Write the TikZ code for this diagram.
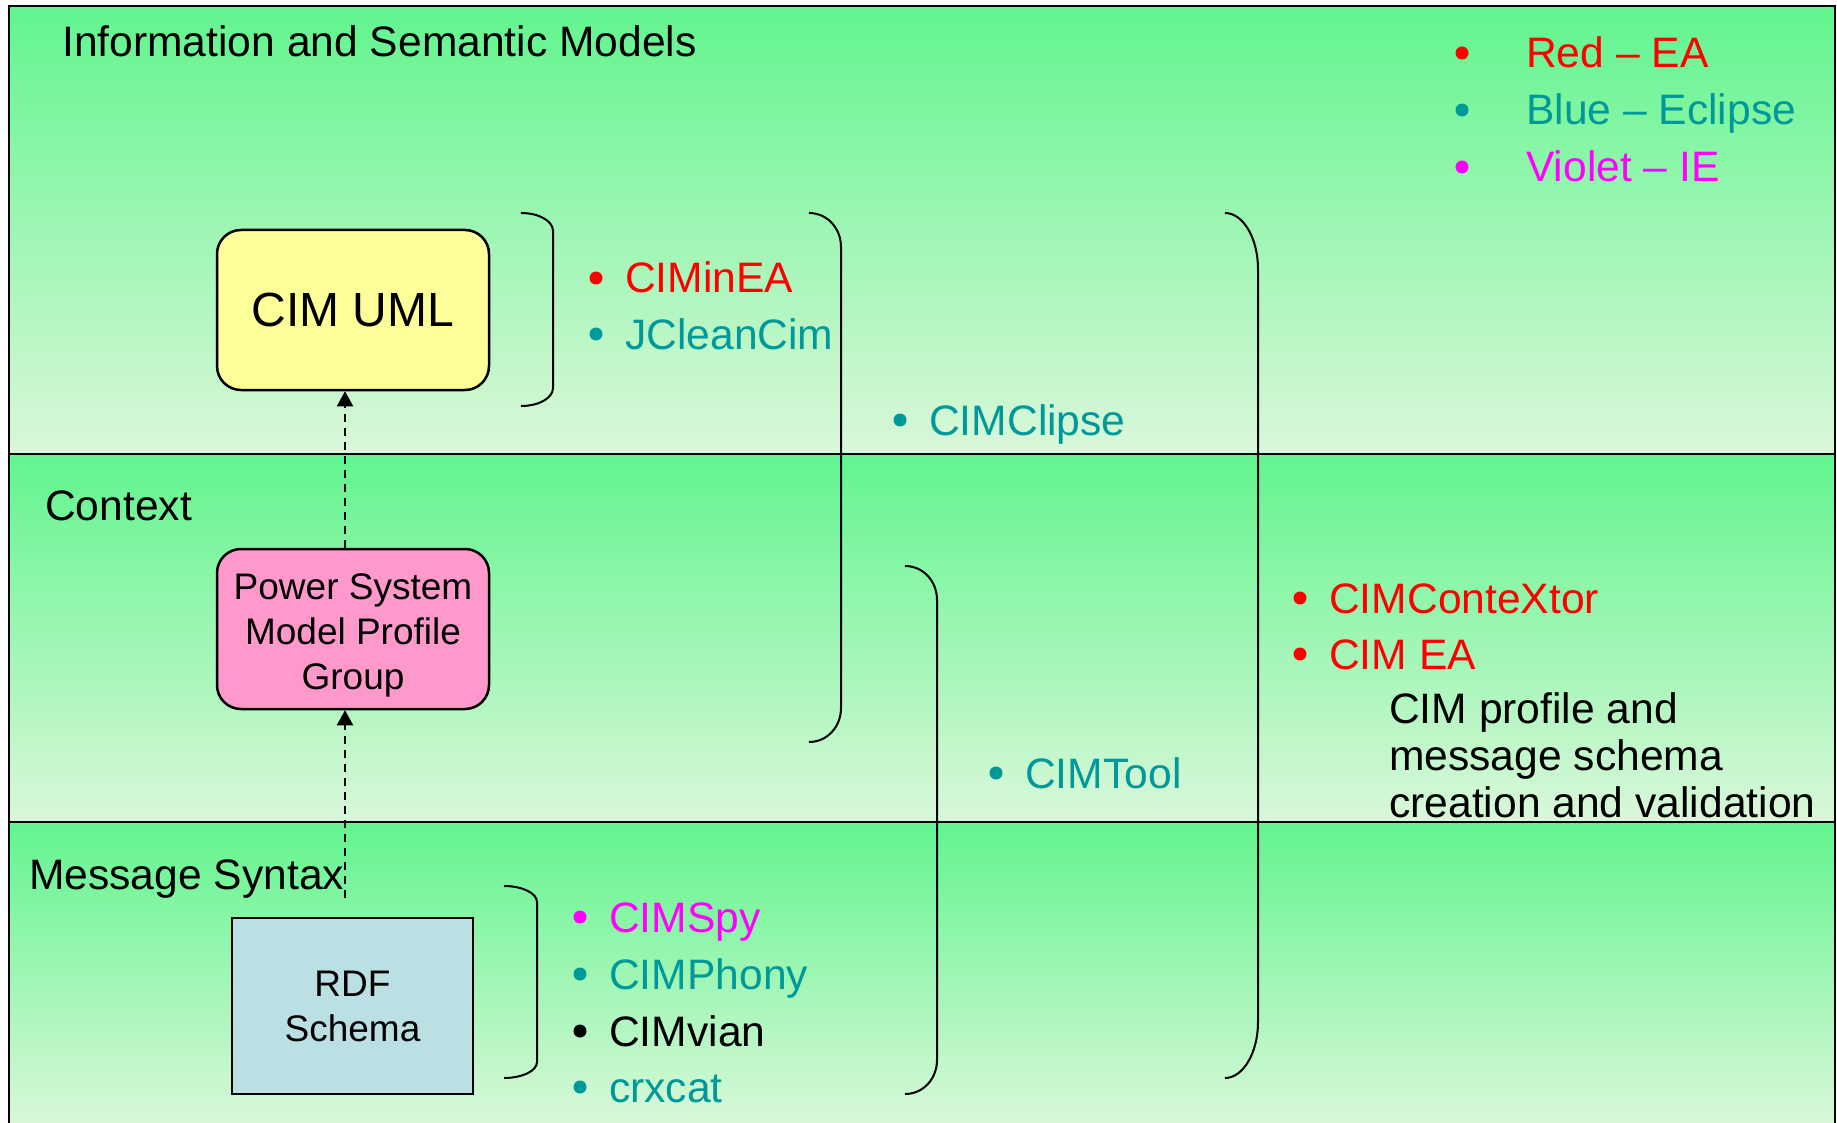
\documentclass[tikz,border=0pt]{standalone}
\usepackage{fontspec}
\setmainfont{Liberation Sans}
\usetikzlibrary{arrows.meta}
\definecolor{bandgreen}{RGB}{98,245,142}
\definecolor{bandpale}{RGB}{218,247,218}
\definecolor{umlyellow}{RGB}{255,255,153}
\definecolor{profilepink}{RGB}{255,153,204}
\definecolor{schemablue}{RGB}{187,224,227}
\definecolor{eclipseteal}{RGB}{0,153,153}
\definecolor{ieviolet}{RGB}{255,0,255}

\begin{document}
\begin{tikzpicture}[x=1pt,y=-1pt,
  band/.style={top color=bandgreen,bottom color=bandpale,draw=black,line width=2.5pt},
  layertitle/.style={anchor=base west,inner sep=0pt,font=\fontsize{42.6}{47}\selectfont},
  tool/.style={anchor=base west,inner sep=0pt,font=\fontsize{42.6}{47}\selectfont},
  modelbox/.style={draw=black,line width=2.5pt,minimum width=272pt,minimum height=160pt,
    rounded corners=24pt,align=center,inner sep=0pt},
  brack/.style={line width=2pt},
  flow/.style={dash pattern=on 8pt off 6pt,line width=2pt,-{Triangle[length=15pt,width=16pt]}}]
\useasboundingbox (0,0) rectangle (1837,1123);
% layers
\shadedraw[band] (9,6) rectangle (1835,454);
\shadedraw[band] (9,454) rectangle (1835,822);
\shadedraw[band] (9,822) rectangle (1835,1126);
\node[layertitle] (infomodels) at (62,57) {Information and Semantic Models};
\node[layertitle] (context) at (45,520) {Context};
\node[layertitle] (msgsyntax) at (29,889) {Message Syntax};
% models
\node[modelbox,fill=umlyellow,font=\fontsize{48}{56}\selectfont] (cimuml) at (353,310) {CIM UML};
\node[modelbox,fill=profilepink,font=\fontsize{37}{45}\selectfont] (psmpg) at (353,629)
  {\rule{0pt}{39pt}Power System\\Model Profile\\Group};
\node[draw=black,line width=2.5pt,fill=schemablue,minimum width=241pt,minimum height=176pt,
  align=center,inner sep=0pt,font=\fontsize{37}{45}\selectfont] (rdfschema) at (352.5,1006) {RDF\\Schema};
\coordinate (syntaxtop) at (345,898);
\draw[flow] ([xshift=-8pt]psmpg.north) -- ([xshift=-8pt]cimuml.south);
\draw[flow] (syntaxtop) -- ([xshift=-8pt]psmpg.south);
% brackets
\draw[brack] (521,213) .. controls (539,213) and (553,221) .. (553,231) -- (553,388)
  .. controls (553,398) and (539,406) .. (521,406);
\draw[brack] (809,213) .. controls (827,213) and (841,228) .. (841,247) -- (841,708)
  .. controls (841,727) and (827,742) .. (809,742);
\draw[brack] (1225,213) .. controls (1243,213) and (1258,238) .. (1258,269) -- (1258,1022)
  .. controls (1258,1053) and (1243,1078) .. (1225,1078);
\draw[brack] (905,566) .. controls (923,566) and (937,581) .. (937,600) -- (937,1060)
  .. controls (937,1079) and (923,1094) .. (905,1094);
\draw[brack] (504,886) .. controls (522,886) and (537,893) .. (537,902) -- (537,1062)
  .. controls (537,1071) and (522,1078) .. (504,1078);
% legend
\fill[red] (1462,53) circle (6.5pt);
\fill[eclipseteal] (1462,110) circle (6.5pt);
\fill[ieviolet] (1462,167) circle (6.5pt);
\node[tool,red] (legendea) at (1526,68) {Red – EA};
\node[tool,eclipseteal] (legendeclipse) at (1526,125) {Blue – Eclipse};
\node[tool,ieviolet] (legendie) at (1526,182) {Violet – IE};
% tools
\fill[red] (596,278) circle (6.5pt);
\fill[eclipseteal] (596,334) circle (6.5pt);
\node[tool,red] (ciminea) at (625,293) {CIMinEA};
\node[tool,eclipseteal] (jcleancim) at (625,349) {JCleanCim};
\fill[eclipseteal] (900,420) circle (6.5pt);
\node[tool,eclipseteal] (cimclipse) at (929,435) {CIMClipse};
\fill[eclipseteal] (996,773) circle (6.5pt);
\node[tool,eclipseteal] (cimtool) at (1025,788) {CIMTool};
\fill[red] (1300,598) circle (6.5pt);
\fill[red] (1300,654) circle (6.5pt);
\node[tool,red] (cimcontextor) at (1329,613) {CIMConteXtor};
\node[tool,red] (cimea) at (1329,669) {CIM EA};
\node[tool,anchor=north west,align=left] (profiletext) at (1389,692.5)
  {CIM profile and\\message schema\\creation and validation};
\fill[ieviolet] (580,917) circle (6.5pt);
\fill[eclipseteal] (580,974) circle (6.5pt);
\fill[black] (580,1031) circle (6.5pt);
\fill[eclipseteal] (580,1087) circle (6.5pt);
\node[tool,ieviolet] (cimspy) at (609,932) {CIMSpy};
\node[tool,eclipseteal] (cimphony) at (609,989) {CIMPhony};
\node[tool] (cimvian) at (609,1046) {CIMvian};
\node[tool,eclipseteal] (crxcat) at (609,1102) {crxcat};
\end{tikzpicture}
\end{document}
